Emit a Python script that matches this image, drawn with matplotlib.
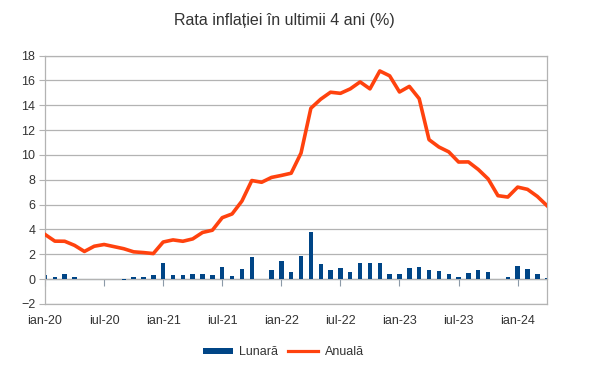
import matplotlib
matplotlib.use("Agg")
import matplotlib.pyplot as plt
from matplotlib.patches import Patch
from matplotlib.lines import Line2D
import numpy as np

plt.rcParams["font.family"] = ["Liberation Sans", "DejaVu Sans"]

# monthly CPI change (%), Jan 2020 .. Apr 2024
lunara = [
    0.35, 0.20, 0.45, 0.20, 0.00, 0.05, 0.00, 0.03, -0.06, 0.20, 0.15, 0.35,
    1.30, 0.33, 0.33, 0.40, 0.45, 0.30, 0.95, 0.24, 0.80, 1.75, 0.00, 0.75,
    1.48, 0.60, 1.88, 3.76, 1.20, 0.75, 0.88, 0.58, 1.33, 1.33, 1.27, 0.38,
    0.38, 0.90, 1.00, 0.70, 0.65, 0.38, 0.16, 0.51, 0.75, 0.54, 0.00, 0.20,
    1.08, 0.80, 0.43, 0.06,
]
# annual CPI change (%)
anuala = [
    3.60, 3.06, 3.05, 2.72, 2.23, 2.65, 2.79, 2.62, 2.45, 2.20, 2.14, 2.06,
    2.99, 3.16, 3.05, 3.24, 3.76, 3.94, 4.95, 5.25, 6.29, 7.94, 7.80, 8.19,
    8.35, 8.53, 10.15, 13.76, 14.49, 15.05, 14.96, 15.32, 15.88, 15.32, 16.76, 16.37,
    15.07, 15.52, 14.53, 11.23, 10.64, 10.25, 9.43, 9.44, 8.83, 8.07, 6.72, 6.61,
    7.41, 7.23, 6.66, 5.90,
]
tick_labels = ["ian-20", "iul-20", "ian-21", "iul-21", "ian-22",
               "iul-22", "ian-23", "iul-23", "ian-24"]

BLUE = "#004586"
ORANGE = "#ff420e"
GRID = "#b3b3b3"
TXT = "#333333"

x = np.arange(len(anuala))
ticks = np.arange(0, len(x), 6)

fig = plt.figure(figsize=(6, 3.73), dpi=100)
ax = fig.add_axes([0.075, 0.185, 0.837, 0.666])

ax.bar(x, lunara, width=0.45, color=BLUE, zorder=2, clip_on=True)
ax.plot(x, anuala, color=ORANGE, lw=2.6, solid_joinstyle="round", zorder=3)

ax.set_xlim(0, len(x) - 1)
ax.set_ylim(-2, 18)
ax.set_yticks(np.arange(-2, 19, 2))
ax.yaxis.grid(True, color=GRID, lw=0.9, zorder=0)
ax.set_axisbelow(True)

ax.set_xticks(ticks)
ax.set_xticklabels(tick_labels)
ax.tick_params(axis="x", length=0, pad=8, labelsize=9, labelcolor=TXT)
ax.tick_params(axis="y", length=4, color=GRID, pad=3, labelsize=9, labelcolor=TXT)
for s in ax.spines.values():
    s.set_color(GRID)
    s.set_linewidth(0.9)

# category axis crossing at 0, ticks pointing down
sec = ax.secondary_xaxis(0.1)
sec.set_xticks(ticks)
sec.tick_params(axis="x", direction="out", length=5, color="#8c9aa8",
                labelbottom=False)
sec.spines["bottom"].set_color("#8c9aa8")
sec.spines["bottom"].set_linewidth(0.9)

fig.text(0.474, 0.944, "Rata inflației în ultimii 4 ani (%)",
         ha="center", va="center", fontsize=11.5, color=TXT)

handles = [Patch(facecolor=BLUE, edgecolor="none"),
           Line2D([0], [0], color=ORANGE, lw=2.3)]
fig.legend(handles, ["Lunară", "Anuală"], loc="center",
           bbox_to_anchor=(0.4725, 0.056), ncol=2, frameon=False,
           fontsize=9, handlelength=2.4, handleheight=0.35,
           columnspacing=0.8, handletextpad=0.5, labelcolor=TXT)

fig.savefig("out.png", dpi=100)
